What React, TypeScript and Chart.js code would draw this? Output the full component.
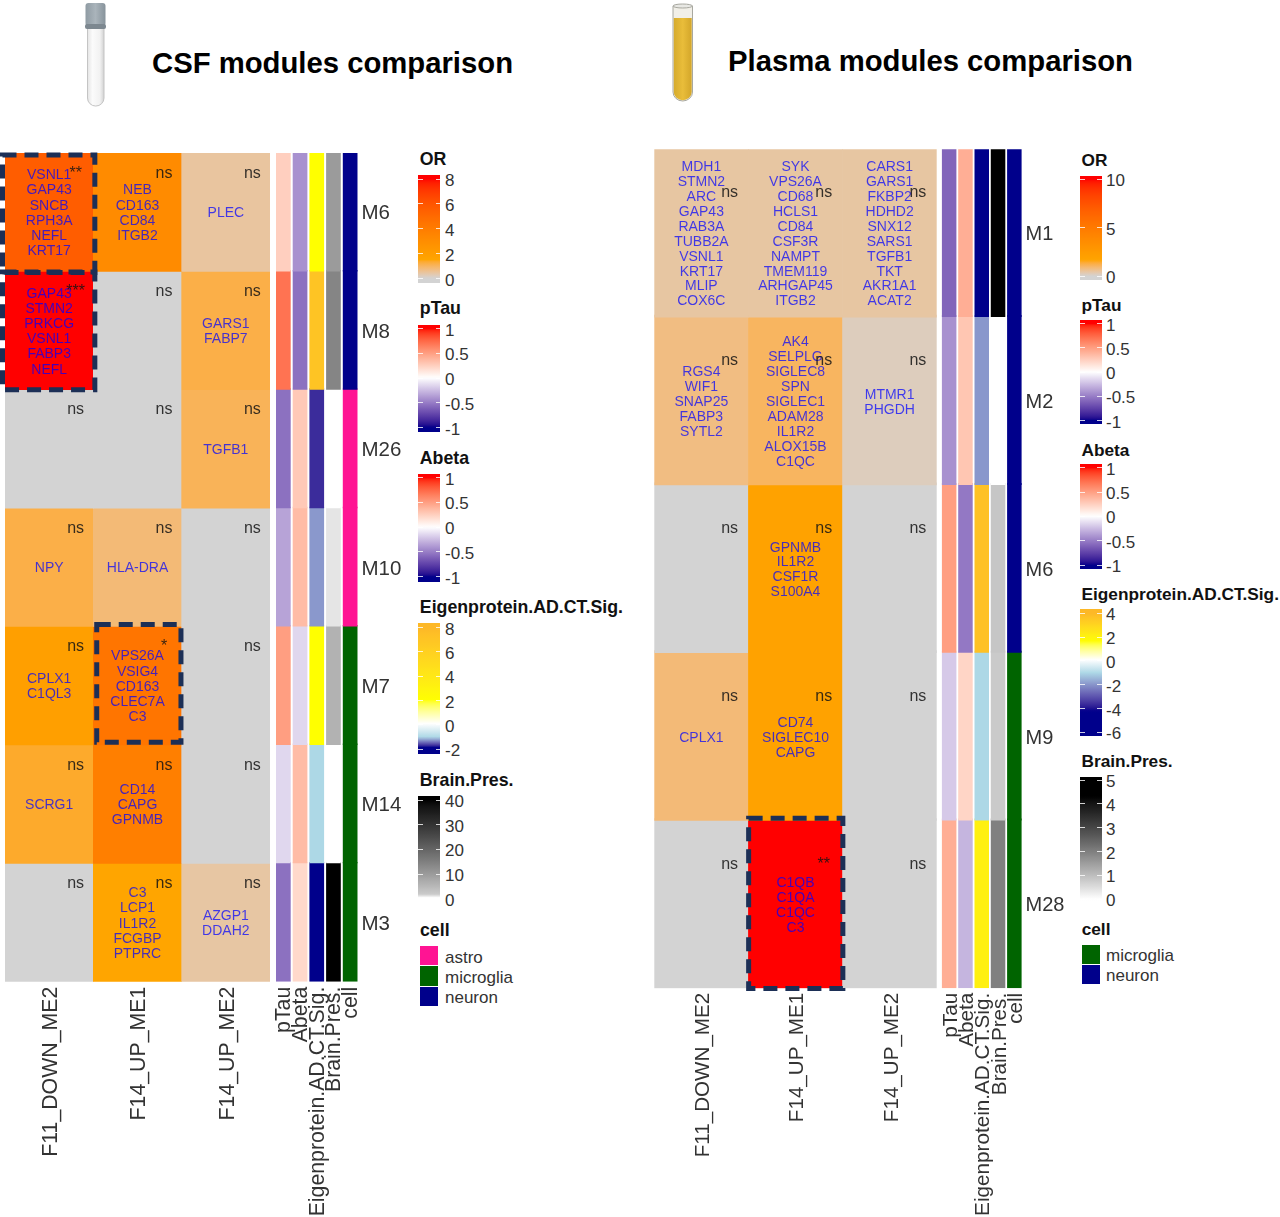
import React, { useEffect, useRef } from "react";
import { Chart, registerables } from "chart.js";

Chart.register(...registerables);

/* ---------- data ---------- */
const contrasts = ["F11_DOWN_ME2", "F14_UP_ME1", "F14_UP_ME2"];
const annotationNames = ["pTau", "Abeta", "Eigenprotein.AD.CT.Sig.", "Brain.Pres.", "cell"];

const csfModules = ["M6", "M8", "M26", "M10", "M7", "M14", "M3"];
const csfOr = [
  [5.6, 3.1, 0.45],
  [8, 0, 1.17],
  [0, 0, 1.05],
  [1.17, 0.8, 0],
  [1.9, 4.4, 0],
  [1.35, 3.85, 0],
  [0, 1.5, 0.42],
];
const csfSig = [
  ["**", "ns", "ns"],
  ["***", "ns", "ns"],
  ["ns", "ns", "ns"],
  ["ns", "ns", "ns"],
  ["ns", "*", "ns"],
  ["ns", "ns", "ns"],
  ["ns", "ns", "ns"],
];
const csfGenes = [
  [["VSNL1", "GAP43", "SNCB", "RPH3A", "NEFL", "KRT17"], ["NEB", "CD163", "CD84", "ITGB2"], ["PLEC"]],
  [["GAP43", "STMN2", "PRKCG", "VSNL1", "FABP3", "NEFL"], [], ["GARS1", "FABP7"]],
  [[], [], ["TGFB1"]],
  [["NPY"], ["HLA-DRA"], []],
  [["CPLX1", "C1QL3"], ["VPS26A", "VSIG4", "CD163", "CLEC7A", "C3"], []],
  [["SCRG1"], ["CD14", "CAPG", "GPNMB"], []],
  [[], ["C3", "LCP1", "IL1R2", "FCGBP", "PTPRC"], ["AZGP1", "DDAH2"]],
];
const csfPTau = [0.25, 0.7, -0.55, -0.35, 0.5, -0.15, -0.55];
const csfAbeta = [-0.42, -0.55, 0.28, 0.35, -0.15, 0.35, 0.2];
const csfEigen = [2, 7, -1.7, -1.25, 2, -1, -2];
const csfBrain = [10, 14, 0, 1.1, 6, 0, 40];
const csfCell = ["neuron", "neuron", "astro", "astro", "microglia", "microglia", "microglia"];

const plasmaModules = ["M1", "M2", "M6", "M9", "M28"];
const plasmaOr = [
  [0.45, 0.45, 0.45],
  [0.75, 1.05, 0.2],
  [0, 1.85, 0],
  [0.85, 1.85, 0],
  [0, 10, 0],
];
const plasmaSig = [
  ["ns", "ns", "ns"],
  ["ns", "ns", "ns"],
  ["ns", "ns", "ns"],
  ["ns", "ns", "ns"],
  ["ns", "**", "ns"],
];
const plasmaGenes = [
  [
    ["MDH1", "STMN2", "ARC", "GAP43", "RAB3A", "TUBB2A", "VSNL1", "KRT17", "MLIP", "COX6C"],
    ["SYK", "VPS26A", "CD68", "HCLS1", "CD84", "CSF3R", "NAMPT", "TMEM119", "ARHGAP45", "ITGB2"],
    ["CARS1", "GARS1", "FKBP2", "HDHD2", "SNX12", "SARS1", "TGFB1", "TKT", "AKR1A1", "ACAT2"],
  ],
  [
    ["RGS4", "WIF1", "SNAP25", "FABP3", "SYTL2"],
    ["AK4", "SELPLG", "SIGLEC8", "SPN", "SIGLEC1", "ADAM28", "IL1R2", "ALOX15B", "C1QC"],
    ["MTMR1", "PHGDH"],
  ],
  [[], ["GPNMB", "IL1R2", "CSF1R", "S100A4"], []],
  [["CPLX1"], ["CD74", "SIGLEC10", "CAPG"], []],
  [[], ["C1QB", "C1QA", "C1QC", "C3"], []],
];
const plasmaPTau = [-0.6, -0.42, 0.5, -0.2, 0.42];
const plasmaAbeta = [0.42, 0.3, -0.52, 0.22, -0.28];
const plasmaEigen = [-6, -1.95, 3.7, -1, 2.1];
const plasmaBrain = [5, 0, 0.86, 0.8, 2];
const plasmaCell = ["neuron", "neuron", "neuron", "microglia", "microglia"];

/* colour scale stops: [value, colour] */
const GREY = "#d3d3d3";
const csfOrStops = [[0, GREY], [1.5, "#ffa500"], [8, "#ff0000"]];
const plasmaOrStops = [[0, GREY], [1.6, "#ffa500"], [10, "#ff0000"]];
const corrStops = [[-1, "#00008b"], [0, "#ffffff"], [1, "#ff0000"]];
const csfEigenStops = [[-2, "#00008b"], [-1.85, "#00008b"], [-1, "#add8e6"], [0.1, "#ffffff"], [2, "#ffff00"], [8, "#fdb827"]];
const plasmaEigenStops = [[-6, "#00008b"], [-4.2, "#00008b"], [-1, "#add8e6"], [0.1, "#ffffff"], [1.6, "#ffff00"], [4, "#fdb827"]];
const csfBrainStops = [[0, "#ffffff"], [0.6, "#ffffff"], [1.6, "#cccccc"], [40, "#000000"]];
const plasmaBrainStops = [[0, "#ffffff"], [4.3, "#000000"], [5, "#000000"]];
const cellColours: Record<string, string> = { astro: "#ff1493", microglia: "#006400", neuron: "#00008b" };

/* colourbar ticks */
const csfOrTicks = [8, 6, 4, 2, 0];
const plasmaOrTicks = [10, 5, 0];
const corrTicks = [1, 0.5, 0, -0.5, -1];
const csfEigenTicks = [8, 6, 4, 2, 0, -2];
const plasmaEigenTicks = [4, 2, 0, -2, -4, -6];
const csfBrainTicks = [40, 30, 20, 10, 0];
const plasmaBrainTicks = [5, 4, 3, 2, 1, 0];
const csfCellLegend = ["astro", "microglia", "neuron"];
const plasmaCellLegend = ["microglia", "neuron"];

/* ---------- colour helpers (Lab interpolation) ---------- */
function hexToLab(hex: string) {
  const c = [1, 3, 5].map((i) => parseInt(hex.slice(i, i + 2), 16) / 255).map((v) => (v > 0.04045 ? Math.pow((v + 0.055) / 1.055, 2.4) : v / 12.92));
  const x = (0.4124 * c[0] + 0.3576 * c[1] + 0.1805 * c[2]) / 0.95047;
  const y = 0.2126 * c[0] + 0.7152 * c[1] + 0.0722 * c[2];
  const z = (0.0193 * c[0] + 0.1192 * c[1] + 0.9505 * c[2]) / 1.08883;
  const f = (t: number) => (t > 0.008856 ? Math.cbrt(t) : 7.787 * t + 16 / 116);
  return [116 * f(y) - 16, 500 * (f(x) - f(y)), 200 * (f(y) - f(z))];
}
function labToRgb(lab: number[]) {
  const fy = (lab[0] + 16) / 116;
  const fx = lab[1] / 500 + fy;
  const fz = fy - lab[2] / 200;
  const g = (t: number) => (t * t * t > 0.008856 ? t * t * t : (t - 16 / 116) / 7.787);
  const x = g(fx) * 0.95047;
  const y = g(fy);
  const z = g(fz) * 1.08883;
  const lin = [
    3.2406 * x - 1.5372 * y - 0.4986 * z,
    -0.9689 * x + 1.8758 * y + 0.0415 * z,
    0.0557 * x - 0.204 * y + 1.057 * z,
  ];
  const out = lin.map((v) => {
    const s = v <= 0.0031308 ? 12.92 * v : 1.055 * Math.pow(v, 1 / 2.4) - 0.055;
    return Math.round(Math.min(1, Math.max(0, s)) * 255);
  });
  return `rgb(${out[0]},${out[1]},${out[2]})`;
}
function colourOf(stops: any[], value: number) {
  if (value <= stops[0][0]) return labToRgb(hexToLab(stops[0][1]));
  for (let i = 1; i < stops.length; i++) {
    if (value <= stops[i][0]) {
      const t = (value - stops[i - 1][0]) / (stops[i][0] - stops[i - 1][0]);
      const a = hexToLab(stops[i - 1][1]);
      const b = hexToLab(stops[i][1]);
      return labToRgb(a.map((v, k) => v + (b[k] - v) * t));
    }
  }
  return labToRgb(hexToLab(stops[stops.length - 1][1]));
}

/* ---------- layout ---------- */
const SANS = "'Liberation Sans', Arial, sans-serif";
const INK = "#333333";
// Chart.js paints dataset 0 last, so each row starts slightly under the row above: no seam shows.
const ROW_OVERLAP = 0.012;

const csfLayout = {
  main: { left: 0, width: 275, padLeft: 5, padRight: 5, padTop: 13, axisHeight: 235.3, labelSize: 21.3, labelPad: 5, labelShift: 2 },
  annot: { left: 272, width: 130, padLeft: 3, padTop: 13, axisWidth: 43.5, axisHeight: 235.3, labelSize: 21.3, labelPad: 5, labelShift: 1, barPct: 0.88, moduleSize: 20.5 },
  top: 140,
  lineGap: 15.2,
  nsOffset: 19,
};
const plasmaLayout = {
  main: { left: 650, width: 292, padLeft: 4.3, padRight: 5.3, padTop: 9.3, axisHeight: 228.7, labelSize: 20.6, labelPad: 4.5, labelShift: 2.2 },
  annot: { left: 938, width: 127, padLeft: 3, padTop: 9.3, axisWidth: 42.5, axisHeight: 228.7, labelSize: 20.7, labelPad: 4.5, labelShift: 2, barPct: 0.89, moduleSize: 20 },
  top: 140,
  lineGap: 14.9,
  nsOffset: 42.4,
};
/* dashed frames: row, column and how far each edge sits from the cell edge */
const csfFrames = [
  { row: 0, col: 0, l: -2.5, r: 1.5, t: 2, b: 1 },
  { row: 1, col: 0, l: -2.5, r: 1.5, t: 0.5, b: 0 },
  { row: 4, col: 1, l: 3.4, r: -0.7, t: -2, b: -2.8 },
];
const plasmaFrames = [{ row: 4, col: 1, l: 0.2, r: 0.3, t: -2.3, b: 0.2 }];

function xAxis(box: any) {
  return {
    type: "category",
    grid: { display: false, drawTicks: false },
    border: { display: false },
    afterFit: (s: any) => { s.height = box.axisHeight; s.paddingLeft = 0; s.paddingRight = 0; },
    ticks: { autoSkip: false, minRotation: 90, maxRotation: 90, padding: box.labelPad, labelOffset: box.labelShift, color: INK, font: { family: SANS, size: box.labelSize } },
  };
}

function mainConfig(modules: string[], or: number[][], stops: any[], sig: string[][], genes: string[][][], box: any, lay: any, frames: any[]) {
  return {
    type: "bar",
    data: {
      labels: contrasts,
      datasets: modules.map((_m, r) => ({
        label: modules[r],
        data: contrasts.map(() => [r - ROW_OVERLAP, r + 1]),
        backgroundColor: or[r].map((v) => colourOf(stops, v)),
        borderWidth: 0,
        barPercentage: 1,
        categoryPercentage: 1,
        grouped: false,
      })),
    },
    options: {
      animation: false,
      responsive: false,
      layout: { padding: { left: box.padLeft, right: box.padRight, top: box.padTop, bottom: 0 } },
      plugins: { legend: { display: false }, tooltip: { enabled: false } },
      scales: {
        x: xAxis(box),
        y: { type: "linear", display: false, reverse: true, min: 0, max: modules.length },
      },
    },
    plugins: [
      {
        id: "cellText",
        afterDatasetsDraw(chart: any) {
          const { ctx, scales } = chart;
          const x = scales.x;
          const y = scales.y;
          const colW = x.getPixelForValue(1) - x.getPixelForValue(0);
          ctx.save();
          ctx.textBaseline = "middle";
          ctx.textAlign = "center";
          modules.forEach((_m: string, r: number) => {
            contrasts.forEach((_c, c) => {
              const cx = x.getPixelForValue(c);
              const cy = y.getPixelForValue(r + 0.5) + 1.2;
              ctx.font = `14px ${SANS}`;
              ctx.fillStyle = "rgba(0,0,255,0.72)";
              const lines = genes[r][c];
              lines.forEach((g: string, i: number) => {
                ctx.fillText(g, cx, cy + (i - (lines.length - 1) / 2) * lay.lineGap);
              });
              ctx.font = `16px ${SANS}`;
              ctx.fillStyle = "rgba(20,20,20,0.85)";
              ctx.fillText(sig[r][c], cx + colW * 0.3, y.getPixelForValue(r) + lay.nsOffset + 1.2);
            });
          });
          ctx.strokeStyle = "#1c2f56";
          ctx.lineWidth = 5;
          ctx.setLineDash([14, 8]);
          frames.forEach((f) => {
            const x0 = x.getPixelForValue(f.col - 0.5) + f.l;
            const x1 = x.getPixelForValue(f.col + 0.5) + f.r;
            const y0 = y.getPixelForValue(f.row) + f.t;
            const y1 = y.getPixelForValue(f.row + 1) + f.b;
            ctx.strokeRect(x0, y0, x1 - x0, y1 - y0);
          });
          ctx.restore();
        },
      },
    ],
  };
}

function annotationConfig(modules: string[], columns: any[], box: any) {
  return {
    type: "bar",
    data: {
      labels: annotationNames,
      datasets: modules.map((_m, r) => ({
        label: modules[r],
        data: annotationNames.map(() => [r - ROW_OVERLAP, r + 1]),
        backgroundColor: columns.map((col) => col(r)),
        borderWidth: 0,
        barPercentage: box.barPct,
        categoryPercentage: 1,
        grouped: false,
      })),
    },
    options: {
      animation: false,
      responsive: false,
      layout: { padding: { left: box.padLeft, right: 0, top: box.padTop, bottom: 0 } },
      plugins: { legend: { display: false }, tooltip: { enabled: false } },
      scales: {
        x: xAxis(box),
        y: {
          type: "linear",
          position: "right",
          reverse: true,
          min: 0,
          max: modules.length,
          grid: { display: false, drawTicks: false },
          border: { display: false },
          afterFit: (s: any) => { s.width = box.axisWidth; s.paddingTop = 0; s.paddingBottom = 0; },
          afterBuildTicks: (s: any) => { s.ticks = modules.map((_m, i) => ({ value: i + 0.5 })); },
          ticks: { padding: 3, labelOffset: 1.5, color: INK, font: { family: SANS, size: box.moduleSize }, callback: (_v: any, i: number) => modules[i] },
        },
      },
    },
  };
}

function ChartCanvas({ left, top, width, height, build }: any) {
  const ref = useRef<HTMLCanvasElement>(null);
  useEffect(() => {
    const chart = new Chart(ref.current as HTMLCanvasElement, build());
    return () => chart.destroy();
  }, []);
  return <canvas ref={ref} width={width} height={height} style={{ position: "absolute", left, top, width, height }} />;
}

function Panel({ modules, or, orStops, sig, genes, lay, frames, pTau, abeta, eigen, eigenStops, brain, brainStops, cell }: any) {
  const h = 1217 - lay.top;
  const annotColumns = [
    (r: number) => colourOf(corrStops, pTau[r]),
    (r: number) => colourOf(corrStops, abeta[r]),
    (r: number) => colourOf(eigenStops, eigen[r]),
    (r: number) => colourOf(brainStops, brain[r]),
    (r: number) => cellColours[cell[r]],
  ];
  return (
    <>
      <ChartCanvas left={lay.main.left} top={lay.top} width={lay.main.width} height={h}
        build={() => mainConfig(modules, or, orStops, sig, genes, lay.main, lay, frames)} />
      <ChartCanvas left={lay.annot.left} top={lay.top} width={lay.annot.width} height={h}
        build={() => annotationConfig(modules, annotColumns, lay.annot)} />
    </>
  );
}

/* ---------- legends ---------- */
function Text({ x, y, size, bold, children }: any) {
  return (
    <div style={{ position: "absolute", left: x, top: y, transform: "translateY(-50%)", font: `${bold ? "bold " : ""}${size}px ${SANS}`, color: bold ? "#111" : INK, whiteSpace: "nowrap", lineHeight: 1 }}>
      {children}
    </div>
  );
}

function ColourBar({ x, labelX, title, titleY, titleSize, top, bottom, tickTop, tickBottom, ticks, stops }: any) {
  const hi = ticks[0];
  const lo = ticks[ticks.length - 1];
  const px = (v: number) => tickTop + ((hi - v) / (hi - lo)) * (tickBottom - tickTop);
  const parts: string[] = [];
  for (let i = 0; i <= 60; i++) {
    const yy = top + ((bottom - top) * i) / 60;
    const v = hi - ((yy - tickTop) / (tickBottom - tickTop)) * (hi - lo);
    parts.push(`${colourOf(stops, v)} ${((i / 60) * 100).toFixed(2)}%`);
  }
  return (
    <>
      <Text x={x + 1.5} y={titleY} size={titleSize} bold>{title}</Text>
      <div style={{ position: "absolute", left: x, top, width: 21.7, height: bottom - top, background: `linear-gradient(to bottom, ${parts.join(",")})` }} />
      {ticks.map((t: number) => (
        <React.Fragment key={t}>
          <div style={{ position: "absolute", left: x, top: px(t) - 0.5, width: 4.5, height: 1, background: "rgba(255,255,255,0.8)" }} />
          <div style={{ position: "absolute", left: x + 17.2, top: px(t) - 0.5, width: 4.5, height: 1, background: "rgba(255,255,255,0.8)" }} />
          <Text x={labelX} y={px(t) + 1} size={17}>{t}</Text>
        </React.Fragment>
      ))}
    </>
  );
}

function CellLegend({ x, labelX, titleY, titleSize, names, ys, h }: any) {
  return (
    <>
      <Text x={x} y={titleY} size={titleSize} bold>cell</Text>
      {names.map((n: string, i: number) => (
        <React.Fragment key={n}>
          <div style={{ position: "absolute", left: x, top: ys[i], width: 18.4, height: h, background: cellColours[n] }} />
          <Text x={labelX} y={ys[i] + h / 2 + 1} size={17}>{n}</Text>
        </React.Fragment>
      ))}
    </>
  );
}

function Tubes() {
  return (
    <svg width={1280} height={120} style={{ position: "absolute", left: 0, top: 0 }}>
      <defs>
        <linearGradient id="glass" x1="0" x2="1" y1="0" y2="0">
          <stop offset="0" stopColor="#e4e4e4" />
          <stop offset="0.3" stopColor="#fbfbfb" />
          <stop offset="0.75" stopColor="#f2f2f2" />
          <stop offset="1" stopColor="#d2d2d2" />
        </linearGradient>
        <linearGradient id="cap" x1="0" x2="1" y1="0" y2="0">
          <stop offset="0" stopColor="#8f9ba3" />
          <stop offset="0.5" stopColor="#aab4bb" />
          <stop offset="1" stopColor="#87939b" />
        </linearGradient>
        <linearGradient id="gold" x1="0" x2="1" y1="0" y2="0">
          <stop offset="0" stopColor="#d6ab2c" />
          <stop offset="0.5" stopColor="#e9bd3a" />
          <stop offset="1" stopColor="#d3a62a" />
        </linearGradient>
      </defs>
      <path d="M87.5 28 H104 V98 a8.2 8 0 0 1 -16.5 0 Z" fill="url(#glass)" stroke="#c4c4c4" strokeWidth="1" />
      <rect x="85.5" y="3" width="20" height="23" rx="3" fill="url(#cap)" />
      <rect x="85" y="24" width="21" height="5" rx="2" fill="#7d8890" />
      <path d="M673 6 H692.5 V92 a9.75 9 0 0 1 -19.5 0 Z" fill="#f1efe8" stroke="#a8a8a0" strokeWidth="1" />
      <path d="M673.8 18 H691.7 V92 a8.95 8.3 0 0 1 -17.9 0 Z" fill="url(#gold)" />
      <ellipse cx="682.7" cy="6" rx="9.7" ry="2" fill="#e8e8e4" stroke="#a8a8a0" strokeWidth="1" />
    </svg>
  );
}

export default function App() {
  return (
    <div style={{ position: "absolute", left: 0, top: 0, width: 1280, height: 1217, overflow: "hidden", background: "#fff" }}>
      <Tubes />
      <div style={{ position: "absolute", left: 152, top: 47, font: `bold 29.27px ${SANS}`, color: "#000", whiteSpace: "nowrap", lineHeight: "33px" }}>CSF modules comparison</div>
      <div style={{ position: "absolute", left: 728, top: 44.5, font: `bold 29.27px ${SANS}`, color: "#000", whiteSpace: "nowrap", lineHeight: "33px" }}>Plasma modules comparison</div>

      <Panel modules={csfModules} or={csfOr} orStops={csfOrStops} sig={csfSig} genes={csfGenes} lay={csfLayout} frames={csfFrames}
        pTau={csfPTau} abeta={csfAbeta} eigen={csfEigen} eigenStops={csfEigenStops} brain={csfBrain} brainStops={csfBrainStops} cell={csfCell} />
      <Panel modules={plasmaModules} or={plasmaOr} orStops={plasmaOrStops} sig={plasmaSig} genes={plasmaGenes} lay={plasmaLayout} frames={plasmaFrames}
        pTau={plasmaPTau} abeta={plasmaAbeta} eigen={plasmaEigen} eigenStops={plasmaEigenStops} brain={plasmaBrain} brainStops={plasmaBrainStops} cell={plasmaCell} />

      <ColourBar x={418.3} labelX={445} title="OR" titleY={160} titleSize={17.75} top={175} bottom={283.3} tickTop={179} tickBottom={278.5} ticks={csfOrTicks} stops={csfOrStops} />
      <ColourBar x={418.3} labelX={445} title="pTau" titleY={309.3} titleSize={17.75} top={325} bottom={432.3} tickTop={328.5} tickBottom={427.5} ticks={corrTicks} stops={corrStops} />
      <ColourBar x={418.3} labelX={445} title="Abeta" titleY={459} titleSize={17.75} top={474} bottom={581.7} tickTop={477.5} tickBottom={576.5} ticks={corrTicks} stops={corrStops} />
      <ColourBar x={418.3} labelX={445} title="Eigenprotein.AD.CT.Sig." titleY={608.3} titleSize={17.75} top={623.3} bottom={754} tickTop={627.5} tickBottom={749.3} ticks={csfEigenTicks} stops={csfEigenStops} />
      <ColourBar x={418.3} labelX={445} title="Brain.Pres." titleY={781} titleSize={17.75} top={796} bottom={903} tickTop={800} tickBottom={898.7} ticks={csfBrainTicks} stops={csfBrainStops} />
      <CellLegend x={420} labelX={445} titleY={930.7} titleSize={17.75} names={csfCellLegend} ys={[946, 966.4, 986.6]} h={19.2} />

      <ColourBar x={1080} labelX={1106} title="OR" titleY={161} titleSize={17.25} top={175.7} bottom={280} tickTop={179} tickBottom={276} ticks={plasmaOrTicks} stops={plasmaOrStops} />
      <ColourBar x={1080} labelX={1106} title="pTau" titleY={306} titleSize={17.25} top={320} bottom={424} tickTop={323.5} tickBottom={420.5} ticks={corrTicks} stops={corrStops} />
      <ColourBar x={1080} labelX={1106} title="Abeta" titleY={450.7} titleSize={17.25} top={464.3} bottom={569} tickTop={467.7} tickBottom={565} ticks={corrTicks} stops={corrStops} />
      <ColourBar x={1080} labelX={1106} title="Eigenprotein.AD.CT.Sig." titleY={595} titleSize={17.25} top={609} bottom={736} tickTop={613.3} tickBottom={732.3} ticks={plasmaEigenTicks} stops={plasmaEigenStops} />
      <ColourBar x={1080} labelX={1106} title="Brain.Pres." titleY={762.3} titleSize={17.25} top={776.7} bottom={903} tickTop={780} tickBottom={899.3} ticks={plasmaBrainTicks} stops={plasmaBrainStops} />
      <CellLegend x={1081.7} labelX={1106} titleY={930} titleSize={17.25} names={plasmaCellLegend} ys={[945, 965]} h={18.6} />
    </div>
  );
}
